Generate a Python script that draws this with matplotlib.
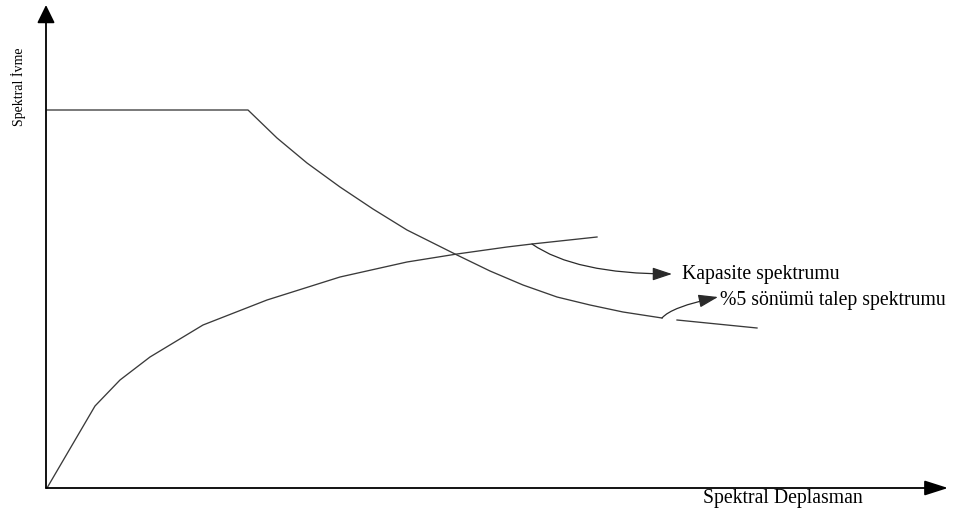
import matplotlib
matplotlib.use("Agg")
from matplotlib import pyplot as plt

# data units: pixels from the origin of the sketch (x right, y up)
# demand spectrum (%5 damping): plateau then descending branch
demand_x = [0, 201, 230, 260, 293, 326, 360, 410, 443, 476, 510, 543, 576, 615]
demand_y = [378, 378, 350, 325, 301, 279, 258, 233, 217, 203, 191, 183, 176, 170]
# second piece of the demand curve past the label arrow
demand_tail_x = [630, 670, 710]
demand_tail_y = [168, 164, 160]
# capacity spectrum
capacity_x = [0, 48, 73, 103, 156, 220, 293, 360, 410, 460, 485, 550]
capacity_y = [0, 82, 108, 131, 163, 188, 211, 226, 234, 241, 244, 251]

labels = ["Kapasite spektrumu", "%5 sönümü talep spektrumu"]
xlabel = "Spektral Deplasman"
ylabel = "Spektral İvme"

fig = plt.figure(figsize=(9.58, 5.13), dpi=100)
ax = fig.add_axes([0, 0, 1, 1])
ax.set_xlim(-47, 911)
ax.set_ylim(-25, 488)
ax.set_axis_off()

plt.rcParams["font.family"] = ["Liberation Serif", "DejaVu Serif"]

line_kw = dict(color="#3a3a3a", lw=0.95, solid_joinstyle="round")
ax.plot(demand_x, demand_y, **line_kw)
ax.plot(demand_tail_x, demand_tail_y, **line_kw)
ax.plot(capacity_x, capacity_y, **line_kw)

# axes with arrow heads
ax.annotate("", xy=(-1, 483), xytext=(-1, 0),
            arrowprops=dict(arrowstyle="-|>,head_length=0.55,head_width=0.27",
                            color="black", lw=1.3, mutation_scale=20,
                            shrinkA=0, shrinkB=0))
ax.annotate("", xy=(901, 0), xytext=(-1, 0),
            arrowprops=dict(arrowstyle="-|>,head_length=0.72,head_width=0.23",
                            color="black", lw=1.3, mutation_scale=20,
                            shrinkA=0, shrinkB=0))

# curved pointers to the labels
ptr_kw = dict(arrowstyle="-|>,head_length=0.6,head_width=0.2",
              color="#2a2a2a", lw=0.9, mutation_scale=20,
              shrinkA=0, shrinkB=0)
ax.annotate("", xy=(625, 214), xytext=(485, 244),
            arrowprops=dict(ptr_kw, connectionstyle="angle3,angleA=-35,angleB=0"))
ax.annotate("", xy=(671, 191), xytext=(615, 170),
            arrowprops=dict(ptr_kw, connectionstyle="angle3,angleA=50,angleB=12"))

ax.text(635, 214, labels[0], fontsize=14.2, va="center", ha="left")
ax.text(673, 188, labels[1], fontsize=14.2, va="center", ha="left")
ax.text(736, -10, xlabel, fontsize=14.2, va="center", ha="center")
ax.text(-29, 401, ylabel, fontsize=10, va="center", ha="center", rotation=90)

fig.savefig("out.png", dpi=100)
